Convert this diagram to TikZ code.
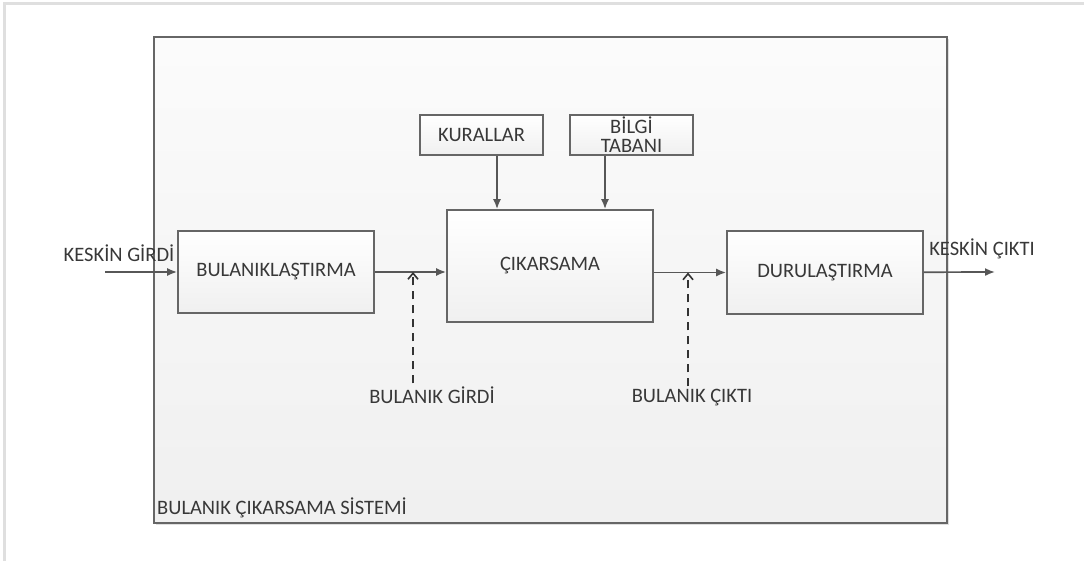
\documentclass[tikz,border=0pt]{standalone}
\usepackage{fontspec}
\setmainfont{Carlito}
\usepackage{xcolor}
\usetikzlibrary{arrows.meta}
\usetikzlibrary{positioning}
\usetikzlibrary{shadows}
\definecolor{kenar}{HTML}{666666}
\definecolor{yazi}{HTML}{383838}

\begin{document}
\begin{tikzpicture}[x=1pt,y=-1pt]
\tikzset{blok/.style={rectangle,draw=kenar,line width=1.7pt,top color=white,bottom color=gray!12,text=yazi,font=\fontsize{20.5}{19}\selectfont,align=center,inner sep=0pt},
ok/.style={draw=kenar!85!black,line width=1.7pt,-{Latex[length=10pt,width=8pt]}},
kesik/.style={draw=black!80,line width=1.6pt,dash pattern=on 8pt off 6pt,-{Straight Barb[length=6pt,width=10pt]}},
etiket/.style={text=yazi,font=\fontsize{20.5}{22}\selectfont,inner sep=0pt}}
\useasboundingbox (0,0) rectangle (1084,561);
\draw[gray!25,line width=3pt] (4,561) -- (4,4) -- (1084,4);
\node[rectangle,draw=kenar,line width=2pt,top color=gray!3,bottom color=gray!12,drop shadow={opacity=0.25,shadow xshift=2pt,shadow yshift=-2pt},minimum width=793pt,minimum height=486pt,inner sep=0pt](sistem) at (550.5,280){};
\node[etiket,anchor=west](sistemad) at (157,508){BULANIK ÇIKARSAMA SİSTEMİ};
\node[blok,minimum width=196pt,minimum height=82pt](fuzz) at (276,272){BULANIKLAŞTIRMA};
\node[blok,minimum width=206pt,minimum height=112pt](inf) at (550,266){ÇIKARSAMA};
\node[blok,minimum width=123pt,minimum height=40pt](kural) at (481.5,135){KURALLAR};
\node[blok,minimum width=123pt,minimum height=40pt](bilgi) at (631.5,135){BİLGİ\\TABANI};
\node[blok,minimum width=196pt,minimum height=83pt](defuzz) at (825,272.5){DURULAŞTIRMA};
\node[etiket](kg) at (119,253){KESKİN GİRDİ};
\node[etiket](kc) at (982,249){KESKİN ÇIKTI};
\node[etiket](bg) at (432,395){BULANIK GİRDİ};
\node[etiket](bc) at (692,398){BULANIK ÇIKTI};
\coordinate (giris) at (105,272);
\coordinate (cikis) at (995,272);
\coordinate (k1) at (497,0);
\coordinate (k2) at (605,0);
\coordinate (b1) at (413,0);
\coordinate (b2) at (688,0);
\draw[ok](giris) -- (fuzz);
\draw[ok](fuzz) -- (fuzz.east -| inf.west);
\draw[ok](inf.east |- defuzz) -- (defuzz);
\draw[ok](defuzz) -- (cikis);
\draw[ok](kural.south -| k1) -- (inf.north -| k1);
\draw[ok](bilgi.south -| k2) -- (inf.north -| k2);
\draw[kesik]([yshift=3pt]bg.north -| b1) -- (b1 |- fuzz.east);
\draw[kesik]([yshift=3pt]bc.north -| b2) -- (b2 |- defuzz.east);
\end{tikzpicture}
\end{document}
